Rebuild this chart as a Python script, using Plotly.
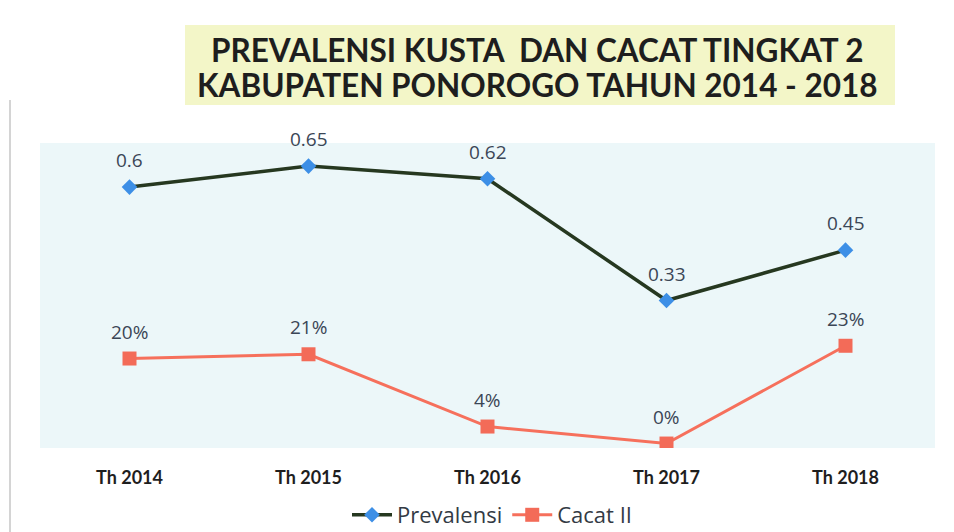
import plotly.graph_objects as go

categories = ["Th 2014", "Th 2015", "Th 2016", "Th 2017", "Th 2018"]
prevalensi = [0.6, 0.65, 0.62, 0.33, 0.45]
prevalensi_labels = ["0.6", "0.65", "0.62", "0.33", "0.45"]
cacat = [20, 21, 4, 0, 23]
cacat_labels = ["20%", "21%", "4%", "0%", "23%"]
title_lines = ["PREVALENSI KUSTA  DAN CACAT TINGKAT 2",
               "KABUPATEN PONOROGO TAHUN 2014 - 2018"]

# page offset of the browser body margin
OFF = 8
W, H = 954 - OFF, 532 - OFF
# plot area in screen pixels
PL, PR, PT, PB = 40, 935, 143, 448
PW, PH = PR - PL, PB - PT


def px(xp):
    return (xp - PL) / PW


def py(yp):
    return (PB - yp) / PH


fig = go.Figure()
fig.add_trace(go.Scatter(
    x=categories, y=prevalensi, name="Prevalensi", mode="lines+markers",
    line=dict(color="#263820", width=3.5),
    marker=dict(symbol="diamond", size=12, color="#3d8fe6"),
    yaxis="y"))
fig.add_trace(go.Scatter(
    x=categories, y=cacat, name="Cacat II", mode="lines+markers",
    line=dict(color="#f6705c", width=3),
    marker=dict(symbol="square", size=14, color="#f36b58"),
    yaxis="y2"))

label_font = dict(family="Open Sans, sans-serif", size=19, color="#3b4656")
for c, v, t in zip(categories, prevalensi, prevalensi_labels):
    fig.add_annotation(x=c, y=v, xref="x", yref="y", text=t, showarrow=False,
                       yshift=27, font=label_font)
for c, v, t in zip(categories, cacat, cacat_labels):
    fig.add_annotation(x=c, y=v, xref="x", yref="y2", text=t, showarrow=False,
                       yshift=27, font=label_font)

# title highlight box
fig.add_shape(type="rect", xref="paper", yref="paper",
              x0=px(185), x1=px(895), y0=py(105), y1=py(25),
              fillcolor="#f3f6c8", line=dict(width=0), layer="below")
for yl, line in zip([49.5, 85], title_lines):
    fig.add_annotation(xref="paper", yref="paper", x=px(537), y=py(yl),
                       xanchor="center", yanchor="middle",
                       text=line, showarrow=False,
                       font=dict(family="Lato, sans-serif", size=31.5, color="#1e1e1e", weight="bold"))

# faint page border at left
fig.add_shape(type="line", xref="paper", yref="paper",
              x0=px(10), x1=px(10), y0=py(100), y1=py(532),
              line=dict(color="#d4d4d4", width=2))

fig.update_layout(
    width=W, height=H,
    margin=dict(l=PL - OFF, r=954 - PR, t=PT - OFF, b=532 - PB, autoexpand=False),
    paper_bgcolor="white",
    plot_bgcolor="#ecf7f9",
    showlegend=True,
    legend=dict(orientation="h", x=px(492), xanchor="center", y=py(515), yanchor="middle",
                font=dict(family="Open Sans, sans-serif", size=22, color="#333a44"),
                itemwidth=40, bgcolor="rgba(0,0,0,0)"),
    xaxis=dict(range=[-0.5, 4.5], showgrid=False, zeroline=False, showline=False,
               ticks="outside", ticklen=13, tickcolor="rgba(0,0,0,0)",
               tickfont=dict(family="Lato, sans-serif", size=18, color="#1e1e1e", weight="bold")),
    yaxis=dict(range=[-0.021, 0.705], visible=False, showgrid=False),
    yaxis2=dict(range=[-1.05, 70.7], visible=False, showgrid=False, overlaying="y", side="right"),
)

fig.write_html("out.html")
